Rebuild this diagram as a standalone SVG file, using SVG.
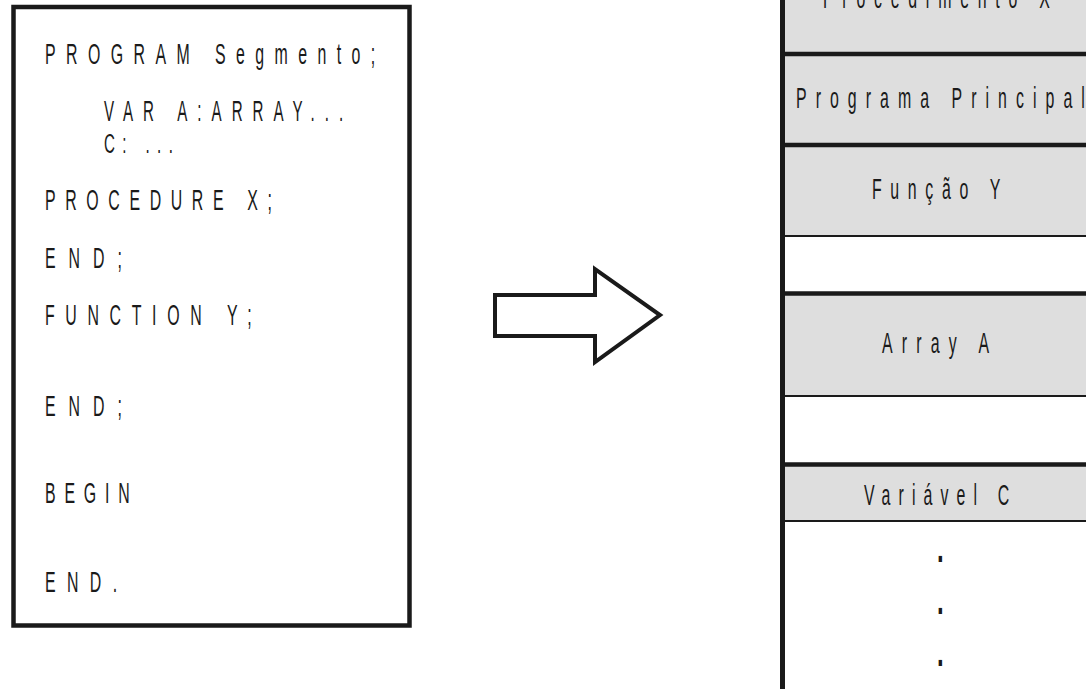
<svg xmlns="http://www.w3.org/2000/svg" width="1086" height="689" viewBox="0 0 1086 689">
<style>
.t{font-family:"Liberation Sans",Arial,sans-serif;font-size:30px;fill:#1a1a1a}
.s{font-size:27px}
.d{font-family:"Liberation Sans",Arial,sans-serif;font-size:40px;font-weight:bold;fill:#1a1a1a}
.box{fill:#ffffff;stroke:#1a1a1a;stroke-width:4.5}
.gray{fill:#dedede}
.white{fill:#ffffff}
.thick{stroke:#1a1a1a;stroke-width:4.5}
.thin{stroke:#1a1a1a;stroke-width:2}
</style>
<rect width="1086" height="689" fill="#ffffff"/>

<g id="source-program">
<rect class="box" x="13.5" y="7" width="396" height="618.5"/>
<text class="t" transform="translate(45 64) scale(0.53 1)" textLength="623" lengthAdjust="spacing">PROGRAM Segmento;</text>
<text class="t s" transform="translate(104 121) scale(0.56 1.1)" textLength="427" lengthAdjust="spacing">VAR A:ARRAY...</text>
<text class="t s" transform="translate(104 153) scale(0.56 1)" textLength="123" lengthAdjust="spacing">C: ...</text>
<text class="t" transform="translate(45 210) scale(0.53 1)" textLength="428" lengthAdjust="spacing">PROCEDURE X;</text>
<text class="t" transform="translate(45 268) scale(0.53 1)" textLength="145" lengthAdjust="spacing">END;</text>
<text class="t" transform="translate(45 325) scale(0.53 1)" textLength="390" lengthAdjust="spacing">FUNCTION Y;</text>
<text class="t" transform="translate(45 416) scale(0.53 1)" textLength="145" lengthAdjust="spacing">END;</text>
<text class="t" transform="translate(45 503) scale(0.53 1)" textLength="160" lengthAdjust="spacing">BEGIN</text>
<text class="t" transform="translate(45 592) scale(0.53 1)" textLength="136" lengthAdjust="spacing">END.</text>
</g>

<g id="connectors">
<polygon points="495,295 595,295 595,269 660,315 595,362 595,336 495,336" fill="#ffffff" stroke="#1a1a1a" stroke-width="4" stroke-linejoin="miter"/>
</g>

<g id="memory">
<g id="cell-procedimento-x">
<rect class="gray" x="782" y="0" width="304" height="54"/>
<text class="t" transform="translate(823 8) scale(0.53 1)" textLength="428" lengthAdjust="spacing">Procedimento X</text>
</g>
<g id="cell-programa-principal">
<rect class="gray" x="782" y="54" width="304" height="91"/>
<text class="t" transform="translate(796 108) scale(0.53 1)" textLength="545" lengthAdjust="spacing">Programa Principal</text>
</g>
<g id="cell-funcao-y">
<rect class="gray" x="782" y="145" width="304" height="91"/>
<text class="t" transform="translate(872 199) scale(0.53 1)" textLength="242" lengthAdjust="spacing">Função Y</text>
</g>
<g id="cell-free-1">
<rect class="white" x="782" y="236" width="304" height="57"/>
</g>
<g id="cell-array-a">
<rect class="gray" x="782" y="293" width="304" height="103"/>
<text class="t" transform="translate(882 353) scale(0.53 1)" textLength="202" lengthAdjust="spacing">Array A</text>
</g>
<g id="cell-free-2">
<rect class="white" x="782" y="396" width="304" height="68"/>
</g>
<g id="cell-variavel-c">
<rect class="gray" x="782" y="464" width="304" height="57"/>
<text class="t" transform="translate(864 505) scale(0.53 1)" textLength="274" lengthAdjust="spacing">Variável C</text>
</g>
<g id="cell-rest">
<rect class="white" x="782" y="521" width="304" height="168"/>
<text class="d" transform="translate(937 562) scale(0.6 1)">.</text>
<text class="d" transform="translate(937 614) scale(0.6 1)">.</text>
<text class="d" transform="translate(937 666) scale(0.6 1)">.</text>
</g>
<line class="thick" x1="782" y1="54" x2="1086" y2="54"/>
<line class="thick" x1="782" y1="145" x2="1086" y2="145"/>
<line class="thin" x1="782" y1="236" x2="1086" y2="236"/>
<line class="thick" x1="782" y1="293.5" x2="1086" y2="293.5"/>
<line class="thin" x1="782" y1="396" x2="1086" y2="396"/>
<line class="thick" x1="782" y1="464.5" x2="1086" y2="464.5"/>
<line class="thin" x1="782" y1="521" x2="1086" y2="521"/>
<line stroke="#1a1a1a" stroke-width="5" x1="782.5" y1="0" x2="782.5" y2="689"/>
</g>
</svg>
